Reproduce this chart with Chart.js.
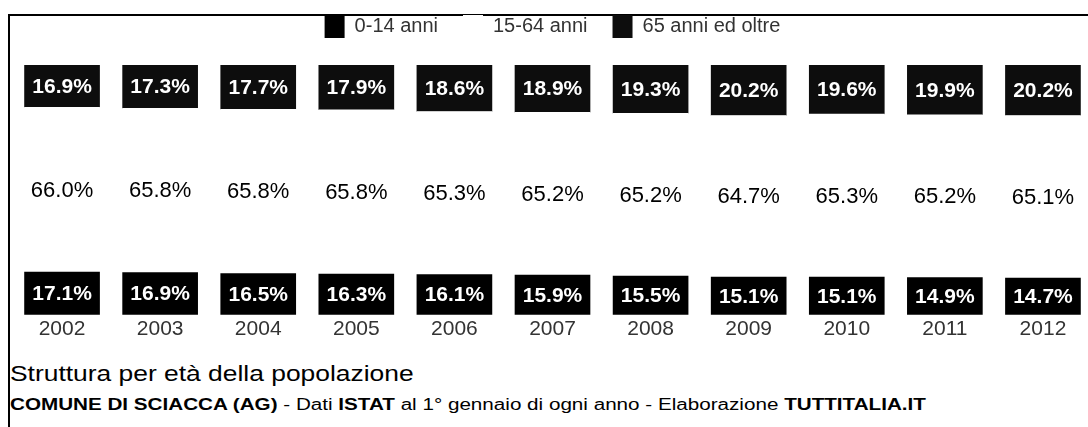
<!DOCTYPE html>
<html>
<head>
<meta charset="utf-8">
<script src="https://cdn.jsdelivr.net/npm/chart.js@4.4.1/dist/chart.umd.min.js"></script>
<style>
  html,body{margin:0;padding:0;background:#fff;}
  body{width:1088px;height:427px;overflow:hidden;position:relative;font-family:"Liberation Sans",Arial,sans-serif;}
  #frame{position:absolute;left:8px;top:14px;width:1100px;height:430px;border-top:2px solid #000;border-left:2px solid #000;}
  #c{position:absolute;left:0;top:-10px;}
  #title{position:absolute;left:10px;top:363px;font-size:22px;line-height:22px;color:#000;white-space:nowrap;transform:scaleX(1.2);transform-origin:0 0;}
  #sub{position:absolute;left:10px;top:397px;font-size:16px;line-height:16px;color:#000;white-space:nowrap;transform:scaleX(1.29);transform-origin:0 0;}
</style>
</head>
<body>
<div id="frame"></div>
<canvas id="c" width="1095" height="354"></canvas>
<div id="title">Struttura per età della popolazione</div>
<div id="sub"><b>COMUNE DI SCIACCA (AG)</b> - Dati <b>ISTAT</b> al 1° gennaio di ogni anno - Elaborazione <b>TUTTITALIA.IT</b></div>
<script>
const years = ['2002','2003','2004','2005','2006','2007','2008','2009','2010','2011','2012'];
const age0_14 = [17.1,16.9,16.5,16.3,16.1,15.9,15.5,15.1,15.1,14.9,14.7];
const age15_64 = [66.0,65.8,65.8,65.8,65.3,65.2,65.2,64.7,65.3,65.2,65.1];
const age65plus = [16.9,17.3,17.7,17.9,18.6,18.9,19.3,20.2,19.6,19.9,20.2];
const seriesLabels = ['0-14 anni','15-64 anni','65 anni ed oltre'];

const legendGap = {
  id:'legendGap',
  beforeLayout(chart){
    const lg = chart.legend;
    if (lg && !lg._gapPatched){
      const fit = lg.fit;
      lg.fit = function(){ fit.call(this); this.height += 17; };
      lg._gapPatched = true;
    }
  }
};

const valueLabels = {
  id:'valueLabels',
  afterDatasetsDraw(chart){
    const ctx = chart.ctx;
    ctx.save();
    ctx.textAlign='center';
    ctx.textBaseline='middle';
    chart.data.datasets.forEach((ds,i)=>{
      const meta = chart.getDatasetMeta(i);
      meta.data.forEach((bar,j)=>{
        const v = ds.data[j];
        const y = (bar.y + bar.base)/2;
        if (i===1){ ctx.fillStyle='#000'; ctx.font='22px "Liberation Sans", Arial, sans-serif'; }
        else { ctx.fillStyle='#fff'; ctx.font='bold 21px "Liberation Sans", Arial, sans-serif'; }
        ctx.fillText(v.toFixed(1)+'%', bar.x, y+1);
      });
    });
    ctx.restore();
  }
};

new Chart(document.getElementById('c'), {
  type:'bar',
  data:{
    labels: years,
    datasets:[
      {label:seriesLabels[0], data:age0_14, backgroundColor:'#000', borderWidth:0},
      {label:seriesLabels[1], data:age15_64, backgroundColor:'#fff', borderWidth:0},
      {label:seriesLabels[2], data:age65plus, backgroundColor:'#0d0d0d', borderWidth:0}
    ]
  },
  options:{
    responsive:false,
    animation:false,
    devicePixelRatio:1,
    layout:{padding:{left:13,right:3,top:0,bottom:0}},
    datasets:{bar:{barThickness:75}},
    scales:{
      x:{stacked:true, grid:{display:false, drawTicks:false}, border:{display:false},
         ticks:{padding:2, color:'#333', font:{family:'"Liberation Sans", Arial, sans-serif', size:21}}},
      y:{stacked:true, min:0, max:100, display:false}
    },
    plugins:{
      legend:{position:'top', labels:{boxWidth:20, boxHeight:23, padding:25, color:'#333',
        font:{family:'"Liberation Sans", Arial, sans-serif', size:20}}},
      tooltip:{enabled:false}
    }
  },
  plugins:[legendGap, valueLabels]
});
</script>
</body>
</html>
